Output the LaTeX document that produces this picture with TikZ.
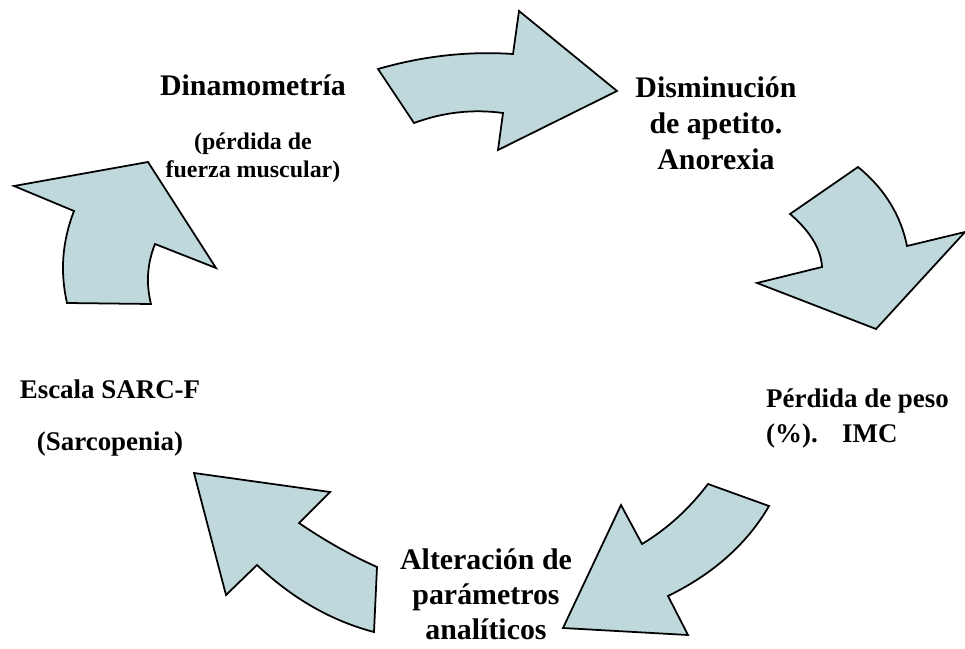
\documentclass[tikz,border=0pt]{standalone}
\usepackage{fontspec}
\setmainfont{Liberation Serif}
\definecolor{arrowfill}{RGB}{190,216,220}
\begin{document}
\begin{tikzpicture}[x=0.03cm,y=-0.03cm,
    bigarrow/.style={draw=black, line width=1.5pt, fill=arrowfill, line join=miter},
    lbl/.style={inner sep=0pt, anchor=base, align=center, font=\bfseries\fontsize{25.5pt}{30.6pt}\selectfont}]
        \useasboundingbox (0,0) rectangle (965,648);

        % Arrows
        \draw[bigarrow] (378,69) .. controls (423,56) and (468,51) .. (513,54) -- (519,11) -- (617,91)
            -- (498,150) -- (503,113) .. controls (473,109) and (444,112) .. (414,123) -- cycle;
        \draw[bigarrow] (858,167) .. controls (885,189) and (901,216) .. (907,246) -- (965,232) -- (876,329)
            -- (757,283) -- (822,267) .. controls (821,249) and (810,231) .. (790,214) -- cycle;
        \draw[bigarrow] (708,484) -- (769,506) .. controls (747,544) and (713,574) .. (668,596) -- (688,635)
            -- (563,628) -- (621,505) -- (642,544) .. controls (667,529) and (689,509) .. (708,484) -- cycle;
        \draw[bigarrow] (194,473) -- (330,492) -- (299,523) .. controls (324,540) and (350,555) .. (377,567)
            -- (374,632) .. controls (332,621) and (293,599) .. (257,565) -- (226,595) -- cycle;
        \draw[bigarrow] (14,186) -- (148,162) -- (216,268) -- (155,244) .. controls (147,264) and (146,284) .. (151,304)
            -- (67,303) .. controls (60,272) and (62,242) .. (74,211) -- cycle;

        % Labels
        \node[lbl] (dinamo) at (253,96) {Dinamometría};
        \node[lbl, font=\bfseries\fontsize{20.4pt}{23.8pt}\selectfont] (fuerza) at (253,177) {(pérdida de\\fuerza muscular)};
        \node[lbl] (apetito) at (716,169) {Disminución\\de apetito.\\Anorexia};
        \node[lbl, align=left, anchor=base west, font=\bfseries\fontsize{23pt}{29.8pt}\selectfont] (peso) at (766,442) {Pérdida de peso\\(\%).\hspace{0.9em}IMC};
        \node[lbl, font=\bfseries\fontsize{23pt}{44.2pt}\selectfont] (sarc) at (110,450) {Escala SARC-F\\(Sarcopenia)};
        \node[lbl, font=\bfseries\fontsize{25.5pt}{29.8pt}\selectfont] (analiticos) at (486,639) {Alteración de\\parámetros\\analíticos};
    \end{tikzpicture}
\end{document}
